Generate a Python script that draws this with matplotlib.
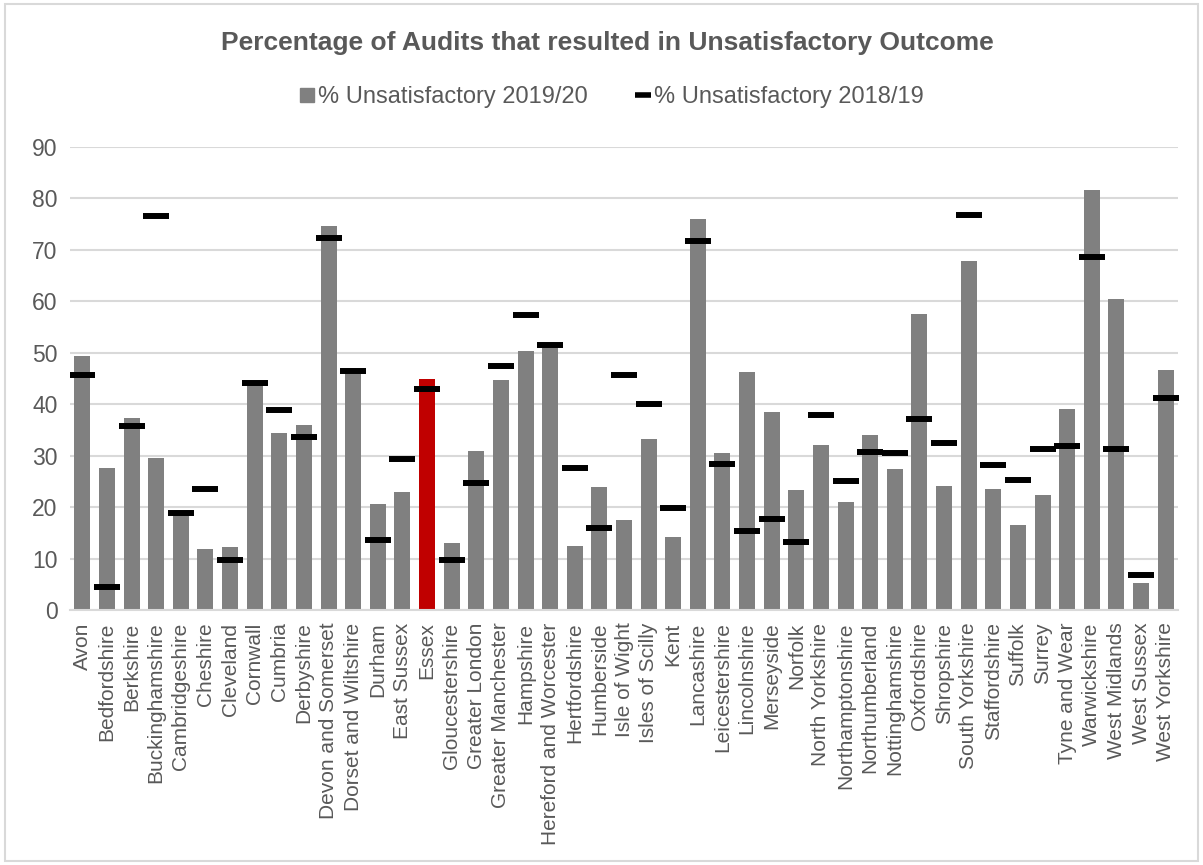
import matplotlib
matplotlib.use('Agg')
import matplotlib.pyplot as plt
from matplotlib.lines import Line2D
from matplotlib.patches import Rectangle
import numpy as np

plt.rcParams['font.family'] = ['Liberation Sans', 'DejaVu Sans']

counties = ['Avon', 'Bedfordshire', 'Berkshire', 'Buckinghamshire', 'Cambridgeshire',
            'Cheshire', 'Cleveland', 'Cornwall', 'Cumbria', 'Derbyshire',
            'Devon and Somerset', 'Dorset and Wiltshire', 'Durham', 'East Sussex', 'Essex',
            'Gloucestershire', 'Greater London', 'Greater Manchester', 'Hampshire',
            'Hereford and Worcester', 'Hertfordshire', 'Humberside', 'Isle of Wight',
            'Isles of Scilly', 'Kent', 'Lancashire', 'Leicestershire', 'Lincolnshire',
            'Merseyside', 'Norfolk', 'North Yorkshire', 'Northamptonshire', 'Northumberland',
            'Nottinghamshire', 'Oxfordshire', 'Shropshire', 'South Yorkshire', 'Staffordshire',
            'Suffolk', 'Surrey', 'Tyne and Wear', 'Warwickshire', 'West Midlands',
            'West Sussex', 'West Yorkshire']

unsat_1920 = [49.3, 27.6, 37.3, 29.5, 18.5, 11.8, 12.2, 43.8, 34.4, 35.9,
              74.7, 45.8, 20.7, 22.9, 44.9, 13.1, 30.9, 44.7, 50.4, 51.0,
              12.4, 23.9, 17.4, 33.2, 14.2, 76.1, 30.6, 46.2, 38.5, 23.4,
              32.0, 21.0, 34.1, 27.5, 57.5, 24.1, 67.8, 23.6, 16.6, 22.3,
              39.0, 81.6, 60.4, 5.2, 46.6]

unsat_1819 = [45.6, 4.4, 35.7, 76.6, 18.8, 23.6, 9.7, 44.2, 38.9, 33.6,
              72.3, 46.5, 13.7, 29.3, 43.0, 9.8, 24.6, 47.5, 57.4, 51.6,
              27.6, 16.0, 45.6, 40.0, 19.8, 71.8, 28.4, 15.4, 17.7, 13.3,
              37.9, 25.1, 30.8, 30.6, 37.1, 32.4, 76.7, 28.2, 25.3, 31.3,
              31.9, 68.7, 31.3, 6.9, 41.2]

highlight = 'Essex'

grey_txt = '#595959'
grid_col = '#d9d9d9'

fig = plt.figure(figsize=(12.03, 8.65), dpi=100)
ax = fig.add_axes([70/1203, 1-610/865, 1108/1203, 463/865])

x = np.arange(len(counties))
cols = ['#c00000' if c == highlight else '#808080' for c in counties]
ax.bar(x, unsat_1920, width=0.65, color=cols, zorder=2)
ax.plot(x, unsat_1819, linestyle='none', marker='_', color='black',
        markersize=18.7, markeredgewidth=4.3, zorder=3)

ax.set_xlim(-0.5, len(counties)-0.5)
ax.set_ylim(0, 90)
ax.set_yticks(range(0, 91, 10))
ax.yaxis.grid(True, color=grid_col, linewidth=1.5, zorder=0)
ax.set_axisbelow(True)
for s in ['top', 'right', 'left']:
    ax.spines[s].set_visible(False)
ax.spines['bottom'].set_color(grid_col)
ax.spines['bottom'].set_linewidth(1.5)

ax.set_xticks(x)
ax.set_xticklabels(counties, rotation=90, fontsize=15, color=grey_txt)
ax.tick_params(axis='x', length=0, pad=9)
ax.tick_params(axis='y', length=0, pad=9, labelsize=16.5, labelcolor=grey_txt)

fig.text(0.505, 1-43/865, 'Percentage of Audits that resulted in Unsatisfactory Outcome',
         ha='center', va='center', fontsize=19, fontweight='bold', color=grey_txt)

handles = [Line2D([], [], linestyle='none', marker='s', color='#808080', markersize=10),
           Line2D([], [], linestyle='none', marker='_', color='black',
                  markersize=11, markeredgewidth=4)]
fig.legend(handles, ['% Unsatisfactory 2019/20', '% Unsatisfactory 2018/19'],
           loc='center', bbox_to_anchor=(0.508, 1-97/865), ncol=2, frameon=False,
           fontsize=17, handlelength=0.7, handletextpad=0.1, columnspacing=2.0,
           labelcolor=grey_txt)

# light frame around the whole chart
fig.patches.append(Rectangle((5/1203, 4/865), 1193/1203, 857/865,
                             transform=fig.transFigure, fill=False,
                             edgecolor=grid_col, linewidth=1.5))

fig.savefig('out.png', dpi=100)
